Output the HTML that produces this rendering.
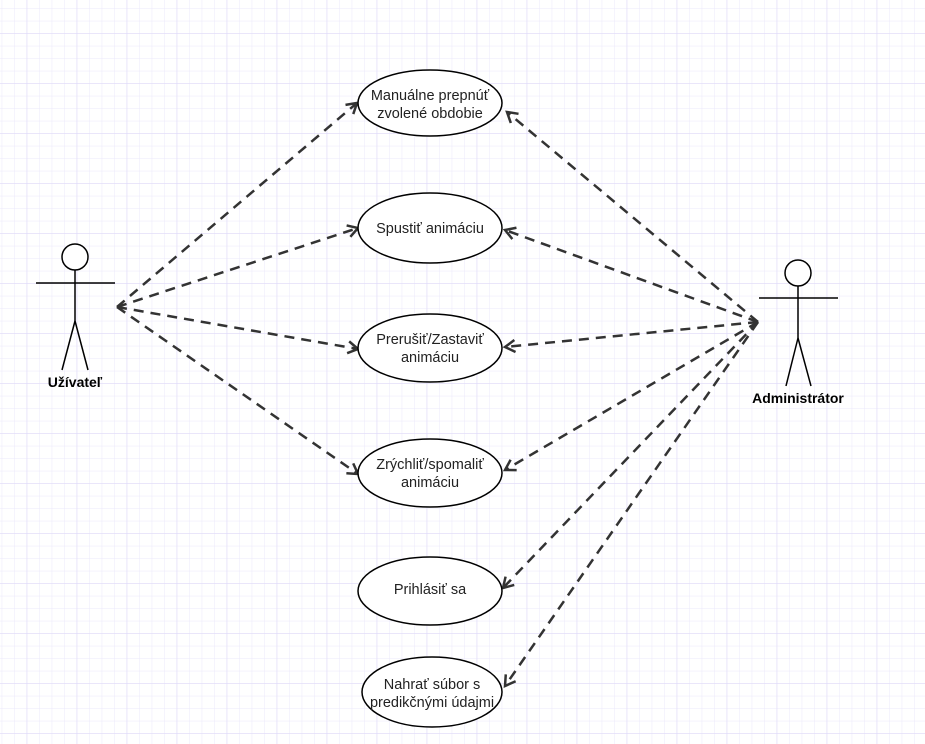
<!DOCTYPE html>
<html><head><meta charset="utf-8"><style>
html,body{margin:0;padding:0;background:#fff;}
svg{display:block;}
text{font-family:"Liberation Sans",Arial,sans-serif;}
</style></head><body>
<svg width="925" height="744" viewBox="0 0 925 744" xmlns="http://www.w3.org/2000/svg">
<defs>
<pattern id="g" x="1.7" y="8.3" width="12.5" height="12.5" patternUnits="userSpaceOnUse">
<path d="M0 0V12.5M0 0H12.5" stroke="#ebe8fb" stroke-width="1" fill="none"/>
</pattern>
<pattern id="G" x="26.7" y="33.3" width="50" height="50" patternUnits="userSpaceOnUse">
<path d="M0 0V50M0 0H50" stroke="#ddd8f8" stroke-width="1" fill="none"/>
</pattern>
<marker id="a" markerWidth="16" markerHeight="16" refX="12" refY="8" orient="auto" markerUnits="userSpaceOnUse">
<path d="M2 2L12 8L2 14" fill="none" stroke="#333" stroke-width="2.5"/>
</marker>
</defs>
<rect width="925" height="744" fill="url(#g)"/>
<rect width="925" height="744" fill="url(#G)"/>

<g stroke="#333" stroke-width="2.5" stroke-dasharray="10,7" fill="none" marker-end="url(#a)">
<line x1="117" y1="307" x2="357" y2="103"/>
<line x1="117" y1="307" x2="358" y2="228"/>
<line x1="117" y1="307" x2="358" y2="349"/>
<line x1="117" y1="307" x2="358" y2="474"/>
<line x1="758" y1="322" x2="507" y2="112"/>
<line x1="758" y1="322" x2="505" y2="230"/>
<line x1="758" y1="322" x2="505" y2="347"/>
<line x1="758" y1="322" x2="505" y2="470"/>
<line x1="758" y1="322" x2="503" y2="588"/>
<line x1="758" y1="322" x2="505" y2="686"/>
</g>

<g fill="#fff" stroke="#000" stroke-width="1.5">
<ellipse cx="430" cy="103" rx="72" ry="33"/>
<ellipse cx="430" cy="228" rx="72" ry="35"/>
<ellipse cx="430" cy="348" rx="72" ry="34"/>
<ellipse cx="430" cy="473" rx="72" ry="34"/>
<ellipse cx="430" cy="591" rx="72" ry="34"/>
<ellipse cx="432" cy="692" rx="70" ry="35"/>
</g>
<g font-size="14.5" fill="#222" text-anchor="middle">
<text x="430" y="100">Manuálne prepnúť</text>
<text x="430" y="118">zvolené obdobie</text>
<text x="430" y="233">Spustiť animáciu</text>
<text x="430" y="344">Prerušiť/Zastaviť</text>
<text x="430" y="362">animáciu</text>
<text x="430" y="469">Zrýchliť/spomaliť</text>
<text x="430" y="487">animáciu</text>
<text x="430" y="594">Prihlásiť sa</text>
<text x="432" y="689">Nahrať súbor s</text>
<text x="432" y="707">predikčnými údajmi</text>
</g>

<g stroke="#000" stroke-width="1.5" fill="#fff">
<circle cx="75" cy="257" r="13"/>
<line x1="36" y1="283" x2="115" y2="283"/>
<line x1="75" y1="270" x2="75" y2="321"/>
<line x1="75" y1="321" x2="62" y2="370"/>
<line x1="75" y1="321" x2="88" y2="370"/>
<circle cx="798" cy="273" r="13"/>
<line x1="759" y1="298" x2="838" y2="298"/>
<line x1="798" y1="286" x2="798" y2="338"/>
<line x1="798" y1="338" x2="786" y2="386"/>
<line x1="798" y1="338" x2="811" y2="386"/>
</g>
<g font-size="14" font-weight="bold" fill="#000" text-anchor="middle">
<text x="75" y="387">Užívateľ</text>
<text x="798" y="403">Administrátor</text>
</g>
</svg>
</body></html>
